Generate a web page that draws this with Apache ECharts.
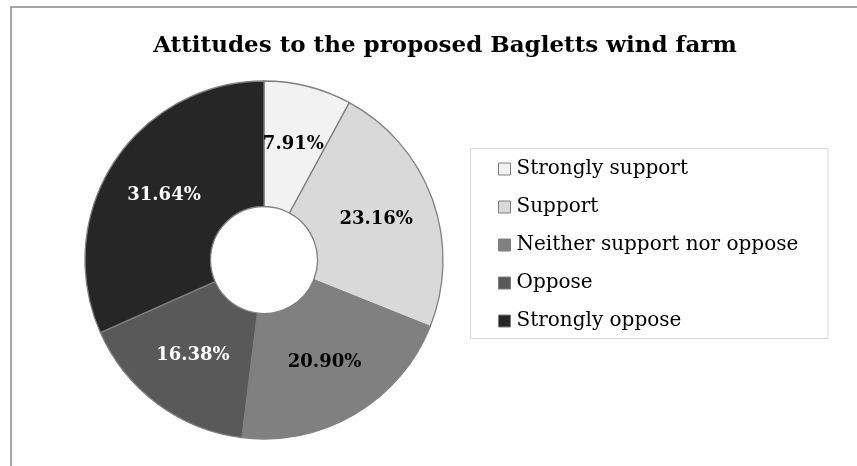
<!DOCTYPE html>
<html>
<head>
<meta charset="utf-8">
<script src="https://cdn.jsdelivr.net/npm/echarts@6/dist/echarts.min.js"></script>
<style>
  html, body { margin: 0; padding: 0; background: #fff; }
  #chart { width: 857px; height: 466px; }
</style>
</head>
<body>
<div id="chart"></div>
<script>
// Survey responses (share of respondents, %)
const categories = ['Strongly support', 'Support', 'Neither support nor oppose', 'Oppose', 'Strongly oppose'];
const shares = [7.91, 23.16, 20.90, 16.38, 31.64];
const sliceColors = ['#f2f2f2', '#d9d9d9', '#808080', '#595959', '#262626'];
const labelColors = ['#000', '#000', '#000', '#fff', '#fff'];

const FONT = '"DejaVu Serif", "Liberation Serif", serif';

const chart = echarts.init(document.getElementById('chart'), null, { renderer: 'canvas' });

chart.setOption({
  backgroundColor: '#fff',
  animation: false,
  title: {
    text: 'Attitudes to the proposed Bagletts wind farm',
    left: 440,
    textAlign: 'center',
    top: 30,
    textStyle: { fontFamily: FONT, fontWeight: 'bold', fontSize: 23, color: '#000' }
  },
  graphic: [
    { type: 'rect', silent: true, z: -1,
      shape: { x: 11, y: 7, width: 900, height: 500 },
      style: { fill: 'none', stroke: '#888', lineWidth: 1.5 } },
    { type: 'rect', silent: true, z: -1,
      shape: { x: 470.5, y: 148.5, width: 357.5, height: 190 },
      style: { fill: 'none', stroke: '#d9d9d9', lineWidth: 1 } }
  ],
  legend: {
    orient: 'vertical',
    left: 493,
    top: 154,
    icon: 'rect',
    itemWidth: 12,
    itemHeight: 12,
    itemGap: 18,
    selectedMode: false,
    data: categories,
    itemStyle: { borderColor: '#7f7f7f', borderWidth: 1 },
    textStyle: { fontFamily: FONT, fontSize: 20, lineHeight: 20, color: '#000', padding: [0, 0, 0, 1] }
  },
  series: [{
    type: 'pie',
    center: [264, 260],
    radius: [53.5, 179],
    startAngle: 90,
    clockwise: true,
    label: {
      show: true,
      position: 'inside',
      fontFamily: FONT,
      fontWeight: 'bold',
      fontSize: 18,
      formatter: p => p.value.toFixed(2) + '%'
    },
    labelLine: { show: false },
    itemStyle: { borderColor: '#7f7f7f', borderWidth: 1.3 },
    emphasis: { disabled: true },
    data: categories.map((name, i) => ({
      name,
      value: shares[i],
      itemStyle: { color: sliceColors[i] },
      label: { color: labelColors[i] }
    }))
  }]
});
</script>
</body>
</html>
